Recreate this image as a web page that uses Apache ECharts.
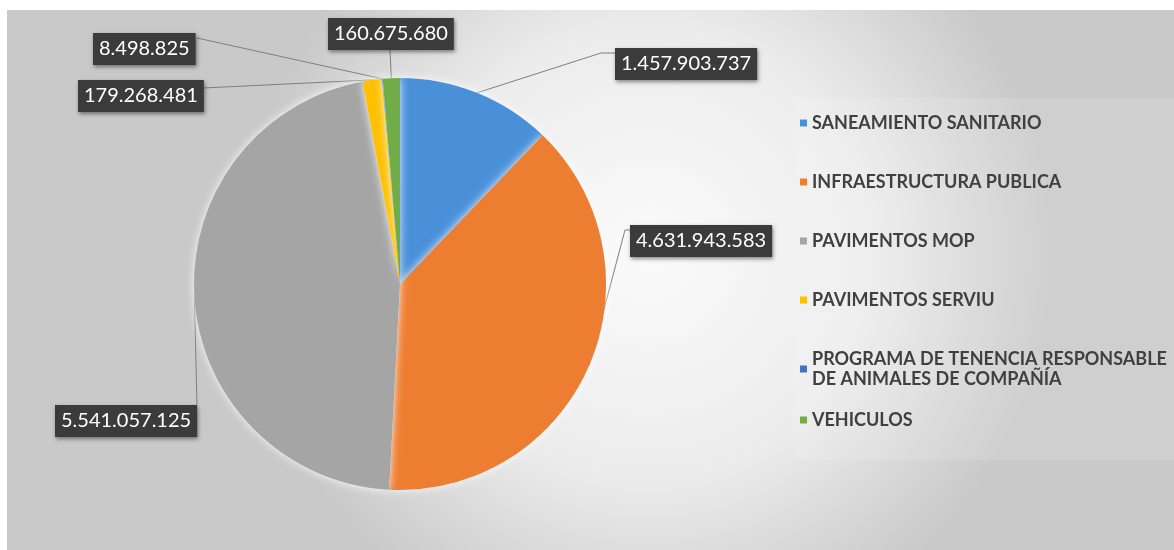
<!DOCTYPE html>
<html>
<head>
<meta charset="utf-8">
<script src="https://cdn.jsdelivr.net/npm/echarts@6/dist/echarts.min.js"></script>
<style>
html,body{margin:0;padding:0;background:#fff;}
#chart{width:1174px;height:550px;}
</style>
</head>
<body>
<div id="chart"></div>
<script>
const categories = [
  'SANEAMIENTO SANITARIO',
  'INFRAESTRUCTURA PUBLICA',
  'PAVIMENTOS MOP',
  'PAVIMENTOS SERVIU',
  'PROGRAMA DE TENENCIA RESPONSABLE DE ANIMALES DE COMPAÑÍA',
  'VEHICULOS'
];
const values = [1457903737, 4631943583, 5541057125, 179268481, 8498825, 160675680];
const colors = ['#4A90D9', '#ED7D31', '#A5A5A5', '#FFC000', '#4472C4', '#70AD47'];

function fmt(v) {
  return String(v).replace(/\B(?=(\d{3})+(?!\d))/g, '.');
}

// label box placement (top-left corner) and leader line attach point
const labelPlace = [
  { x: 615, y: 48, end: [615, 53], bend: [601, 53] },
  { x: 630, y: 225, end: [630, 230], bend: [625, 230] },
  { x: 55, y: 405, end: [197, 405], bend: null },
  { x: 78, y: 80, end: [203, 88], bend: null },
  { x: 93, y: 33, end: [197, 38], bend: null },
  { x: 328, y: 18, end: [390, 50], bend: null }
];

const chart = echarts.init(document.getElementById('chart'));
const data = categories.map((c, i) => ({ name: c, value: values[i], itemStyle: { color: colors[i] } }));

const legendText = {
  color: '#404040',
  fontFamily: 'Lato',
  fontWeight: 'bold',
  fontSize: 18,
  lineHeight: 20
};

chart.setOption({
  animation: false,
  graphic: [
    {
      type: 'rect', z: -10, silent: true,
      shape: { x: 7, y: 10, width: 1167, height: 540 },
      style: {
        fill: {
          type: 'radial', x: 0.55, y: 0.45, r: 0.75,
          colorStops: [
            { offset: 0, color: '#fbfbfb' },
            { offset: 0.55, color: '#ececec' },
            { offset: 1, color: '#c9c9c9' }
          ]
        }
      }
    },
    {
      type: 'rect', z: -9, silent: true,
      shape: { x: 793, y: 98, width: 381, height: 362 },
      style: { fill: 'rgba(255,255,255,0.12)' }
    }
  ],
  legend: [
    {
      orient: 'vertical',
      left: 800,
      top: 113,
      padding: 0,
      itemWidth: 7,
      itemHeight: 7,
      itemGap: 39,
      icon: 'rect',
      data: categories.slice(0, 5),
      formatter: function (n) {
        return n.replace('RESPONSABLE DE', 'RESPONSABLE\nDE');
      },
      textStyle: legendText
    },
    {
      orient: 'vertical',
      left: 800,
      top: 410,
      padding: 0,
      itemWidth: 7,
      itemHeight: 7,
      icon: 'rect',
      data: categories.slice(5),
      textStyle: legendText
    }
  ],
  series: [
    {
      type: 'pie',
      center: [400, 284],
      radius: 206,
      startAngle: 90,
      clockwise: true,
      avoidLabelOverlap: false,
      data: data,
      itemStyle: {
        shadowBlur: 8,
        shadowColor: 'rgba(255,255,255,0.9)'
      },
      label: {
        show: true,
        position: 'outside',
        formatter: function (p) { return fmt(p.value); },
        color: '#ffffff',
        fontFamily: 'Lato',
        fontSize: 20,
        lineHeight: 22,
        backgroundColor: '#3b3b3b',
        padding: [5, 6, 5, 6],
        shadowColor: 'rgba(0,0,0,0.45)',
        shadowBlur: 4,
        shadowOffsetX: 1,
        shadowOffsetY: 2
      },
      labelLine: {
        show: true,
        lineStyle: { color: '#7f7f7f', width: 1 }
      },
      labelLayout: function (params) {
        const p = labelPlace[params.dataIndex];
        const a = params.labelLinePoints ? params.labelLinePoints[0] : p.end;
        const pts = p.bend ? [a, p.bend, p.end] : [a, p.end];
        return {
          x: p.x,
          y: p.y,
          align: 'left',
          verticalAlign: 'top',
          labelLinePoints: pts
        };
      }
    }
  ]
});
</script>
</body>
</html>
